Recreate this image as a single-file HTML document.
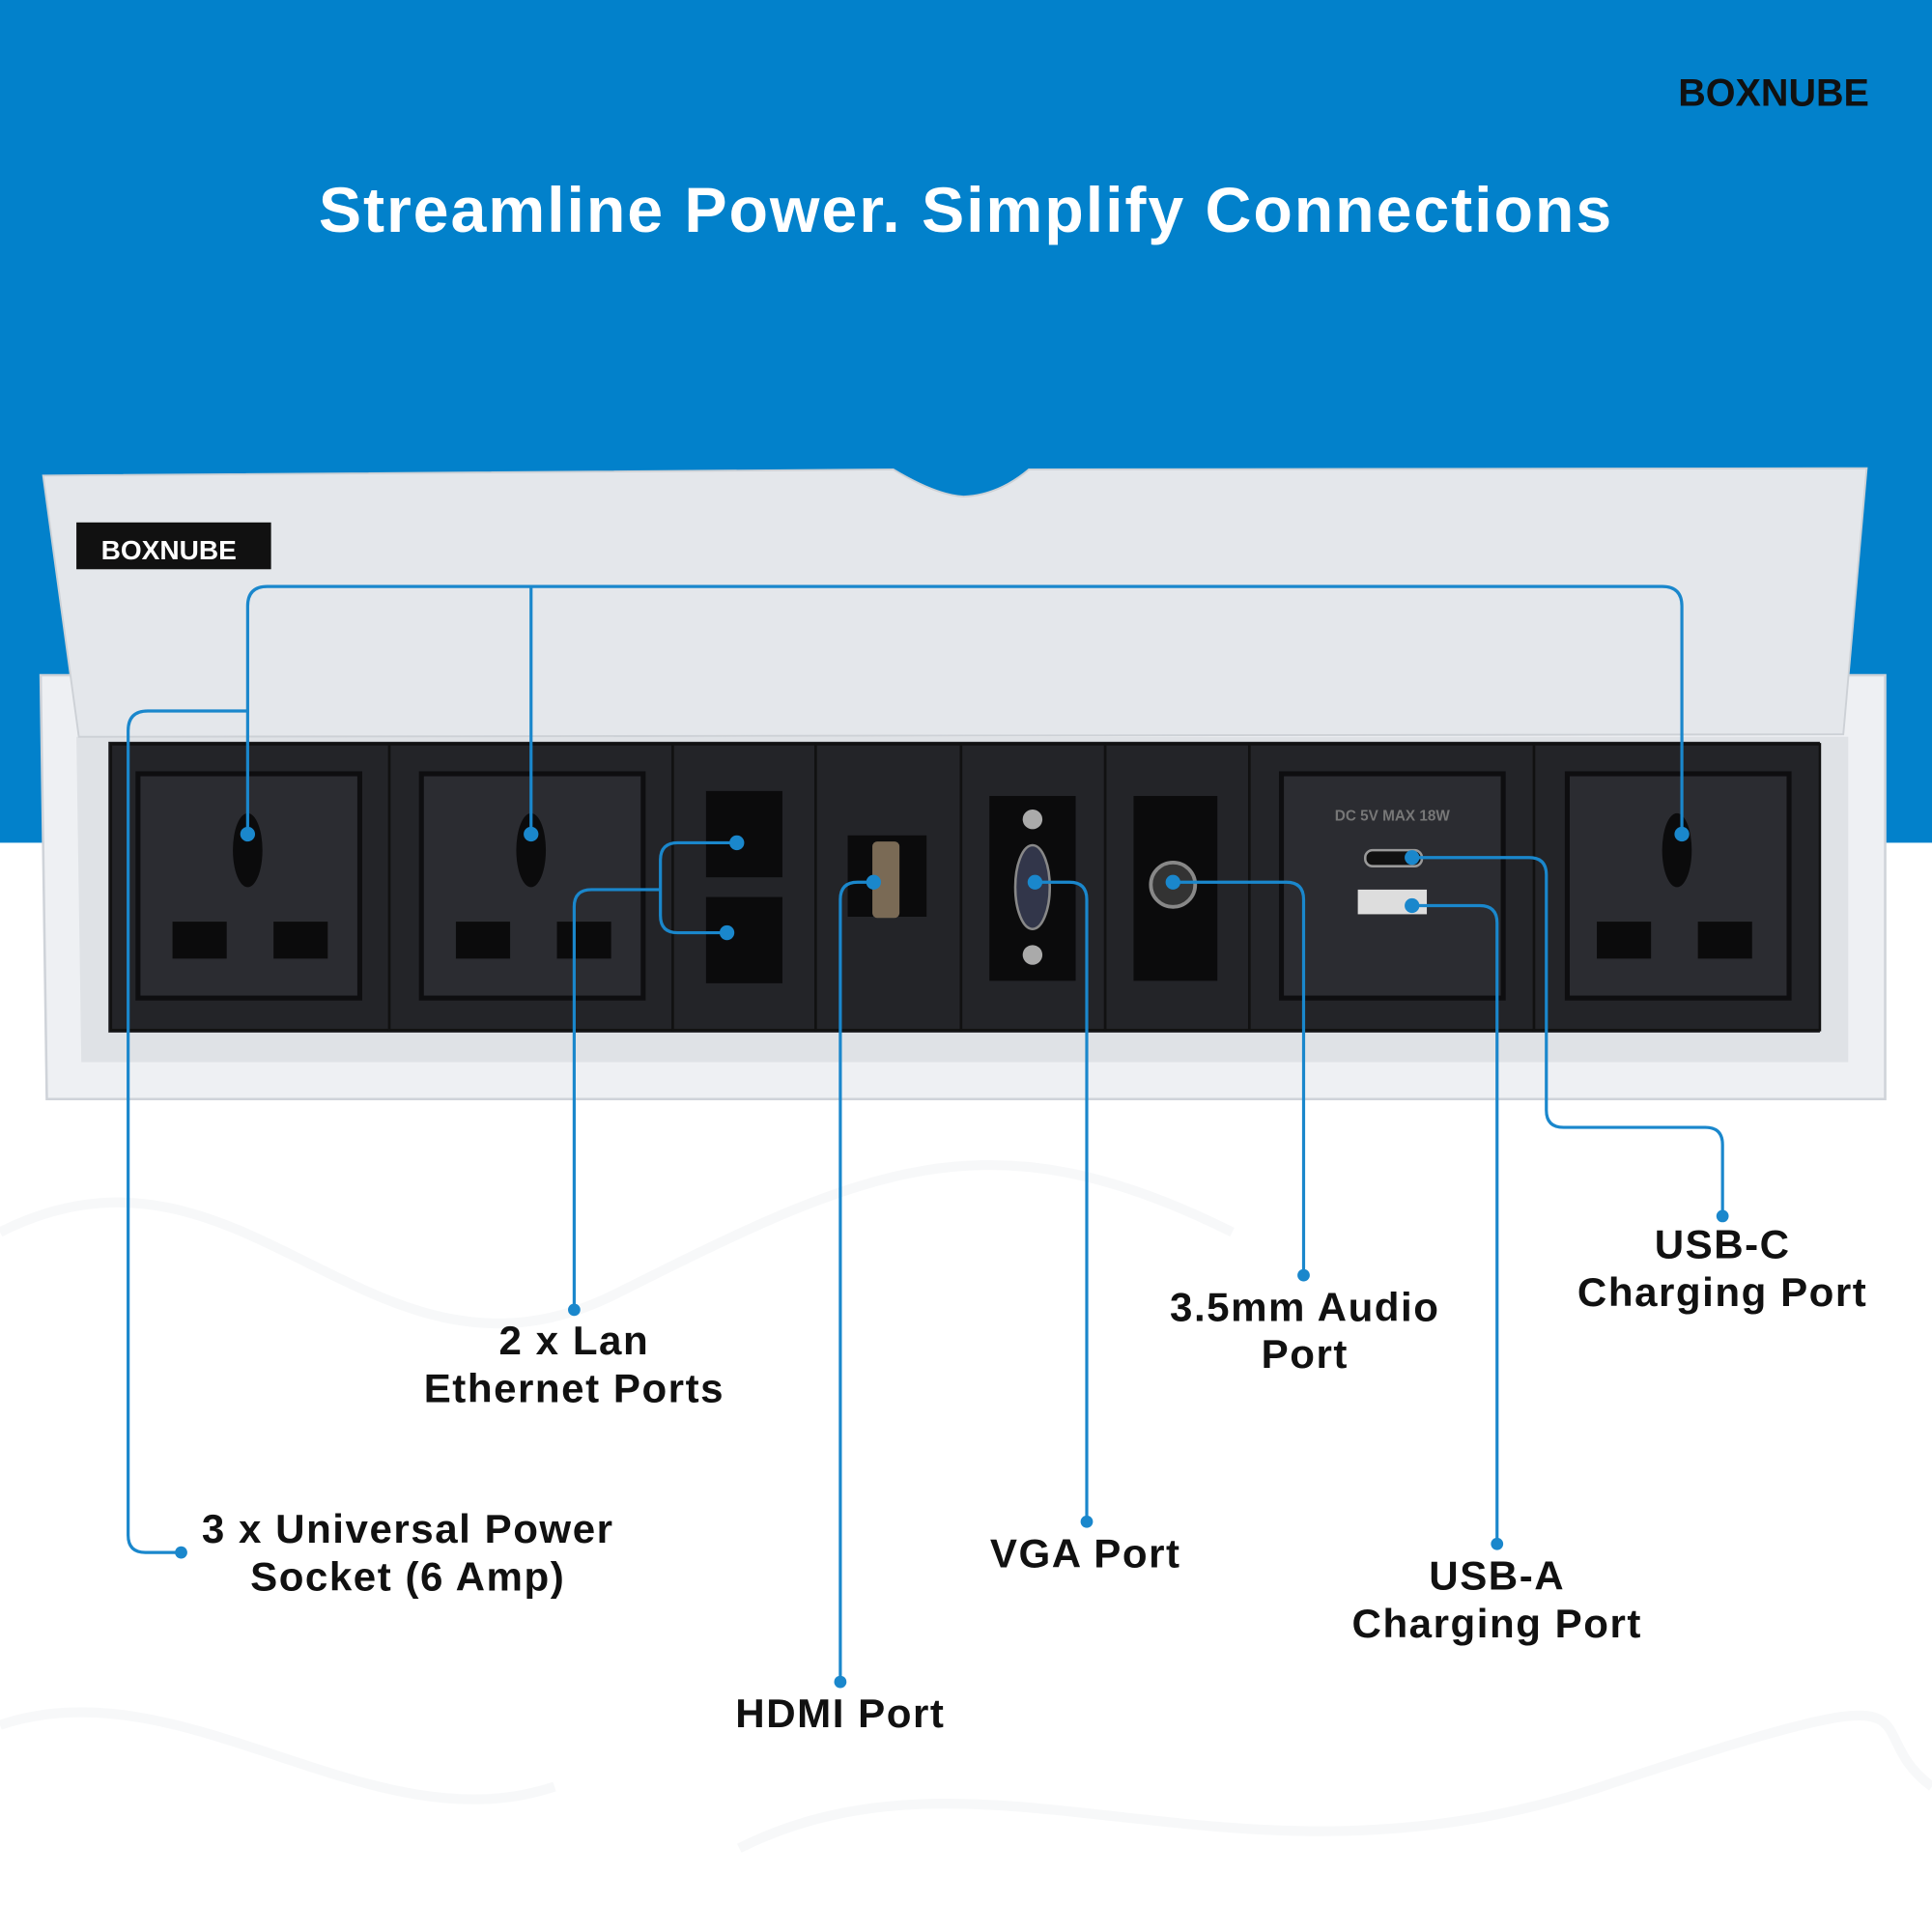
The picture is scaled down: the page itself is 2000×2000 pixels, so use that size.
<!DOCTYPE html>
<html><head><meta charset="utf-8"><style>
html,body{margin:0;padding:0;background:#fff}
svg{display:block}
text{font-family:"Liberation Sans",sans-serif;font-weight:bold}
</style></head><body>
<svg width="2000" height="2000" viewBox="0 0 1568 1568" xmlns="http://www.w3.org/2000/svg">
<rect x="0" y="0" width="1568" height="684" fill="#0281cb"/>
<rect x="0" y="684" width="1568" height="884" fill="#ffffff"/>
<g fill="none" stroke="#f7f8f9" stroke-width="8">
<path d="M0 1000 C200 900 300 1150 500 1050 S 800 900 1000 1000"/>
<path d="M600 1500 C800 1400 1000 1550 1300 1450 S 1500 1400 1568 1450"/>
<path d="M0 1400 C150 1350 300 1500 450 1450"/>
</g>
<text x="784" y="188" font-size="52" fill="#fff" text-anchor="middle" letter-spacing="1.5">Streamline Power. Simplify Connections</text>
<text x="1362" y="86" font-size="31" fill="#111" font-weight="normal">BOXNUBE</text>
<!-- frame -->
<path d="M33 548 L1530 548 L1530 892 L38 892 Z" fill="#eef0f3" stroke="#cfd3d9" stroke-width="2"/>
<path d="M62 598 L1500 598 L1500 862 L66 862 Z" fill="#dfe2e6"/>
<rect x="88" y="602" width="1389" height="236" fill="#1e1f22"/>
<!-- lid -->
<path d="M35 386 L725 381 Q760 402 782 403 Q810 402 835 381 L1515 380 L1497 585 L1496 596 L64 598 Z" fill="#e4e7eb" stroke="#cdd1d6" stroke-width="1.5"/>
<rect x="62" y="424" width="158" height="38" fill="#111"/>
<text x="82" y="454" font-size="22" fill="#fff" font-weight="normal">BOXNUBE</text>
<!-- modules -->
<g fill="#232428" stroke="#111" stroke-width="2">
<rect x="90" y="604" width="226" height="232"/>
<rect x="316" y="604" width="230" height="232"/>
<rect x="546" y="604" width="116" height="232"/>
<rect x="662" y="604" width="118" height="232"/>
<rect x="780" y="604" width="117" height="232"/>
<rect x="897" y="604" width="117" height="232"/>
<rect x="1014" y="604" width="231" height="232"/>
<rect x="1245" y="604" width="232" height="232"/>
</g>
<g fill="#2b2c31" stroke="#0e0e10" stroke-width="4">
<rect x="112" y="628" width="180" height="182"/>
<rect x="342" y="628" width="180" height="182"/>
<rect x="1272" y="628" width="180" height="182"/>
<rect x="1040" y="628" width="180" height="182"/>
</g>
<g fill="#0b0b0c">
<ellipse cx="201" cy="690" rx="12" ry="30"/><ellipse cx="431" cy="690" rx="12" ry="30"/><ellipse cx="1361" cy="690" rx="12" ry="30"/>
<rect x="140" y="748" width="44" height="30"/><rect x="222" y="748" width="44" height="30"/>
<rect x="370" y="748" width="44" height="30"/><rect x="452" y="748" width="44" height="30"/>
<rect x="1296" y="748" width="44" height="30"/><rect x="1378" y="748" width="44" height="30"/>
<rect x="573" y="642" width="62" height="70"/><rect x="573" y="728" width="62" height="70"/>
<rect x="688" y="678" width="64" height="66"/>
<rect x="803" y="646" width="70" height="150"/>
<rect x="920" y="646" width="68" height="150"/>
</g>
<rect x="708" y="683" width="22" height="62" rx="4" fill="#7a6a55"/>
<ellipse cx="838" cy="720" rx="14" ry="34" fill="#32364a" stroke="#888" stroke-width="2"/>
<circle cx="838" cy="665" r="8" fill="#aaa"/><circle cx="838" cy="775" r="8" fill="#aaa"/>
<circle cx="952" cy="718" r="18" fill="#333" stroke="#888" stroke-width="3"/>
<rect x="1108" y="690" width="46" height="13" rx="6" fill="#111" stroke="#999" stroke-width="2"/>
<rect x="1102" y="722" width="56" height="20" fill="#ddd"/>
<text x="1130" y="666" font-size="12" fill="#777" font-weight="normal" text-anchor="middle">DC 5V MAX 18W</text>
<!-- connectors -->
<g fill="none" stroke="#1a87cc" stroke-width="2.5">
<path d="M201 677 V492 Q201 476 217 476 H1349 Q1365 476 1365 492 V677"/>
<path d="M431 476 V677"/>
<path d="M201 577 H120 Q104 577 104 593 V1246 Q104 1260 118 1260 H147"/>
<path d="M598 684 H550 Q536 684 536 698 V743 Q536 757 550 757 H590"/>
<path d="M536 722 H480 Q466 722 466 736 V1063"/>
<path d="M709 716 H696 Q682 716 682 730 V1365"/>
<path d="M840 716 H868 Q882 716 882 730 V1235"/>
<path d="M952 716 H1044 Q1058 716 1058 730 V1035"/>
<path d="M1146 696 H1241 Q1255 696 1255 710 V901 Q1255 915 1269 915 H1384 Q1398 915 1398 929 V987"/>
<path d="M1146 735 H1201 Q1215 735 1215 749 V1253"/>
</g>
<g fill="#1a87cc">
<circle cx="201" cy="677" r="6"/><circle cx="431" cy="677" r="6"/><circle cx="1365" cy="677" r="6"/>
<circle cx="147" cy="1260" r="5"/><circle cx="598" cy="684" r="6"/><circle cx="590" cy="757" r="6"/>
<circle cx="466" cy="1063" r="5"/><circle cx="709" cy="716" r="6"/><circle cx="682" cy="1365" r="5"/>
<circle cx="840" cy="716" r="6"/><circle cx="882" cy="1235" r="5"/><circle cx="952" cy="716" r="6"/>
<circle cx="1058" cy="1035" r="5"/><circle cx="1146" cy="696" r="6"/><circle cx="1398" cy="987" r="5"/>
<circle cx="1146" cy="735" r="6"/><circle cx="1215" cy="1253" r="5"/>
</g>
<g font-size="33" fill="#111" text-anchor="middle" letter-spacing="1.2">
<text x="466" y="1099">2 x Lan</text><text x="466" y="1138">Ethernet Ports</text>
<text x="331" y="1252">3 x Universal Power</text><text x="331" y="1291">Socket (6 Amp)</text>
<text x="682" y="1402">HDMI Port</text>
<text x="881" y="1272">VGA Port</text>
<text x="1059" y="1072">3.5mm Audio</text><text x="1059" y="1110">Port</text>
<text x="1398" y="1021">USB-C</text><text x="1398" y="1060">Charging Port</text>
<text x="1215" y="1290">USB-A</text><text x="1215" y="1329">Charging Port</text>
</g>
</svg>
</body></html>
